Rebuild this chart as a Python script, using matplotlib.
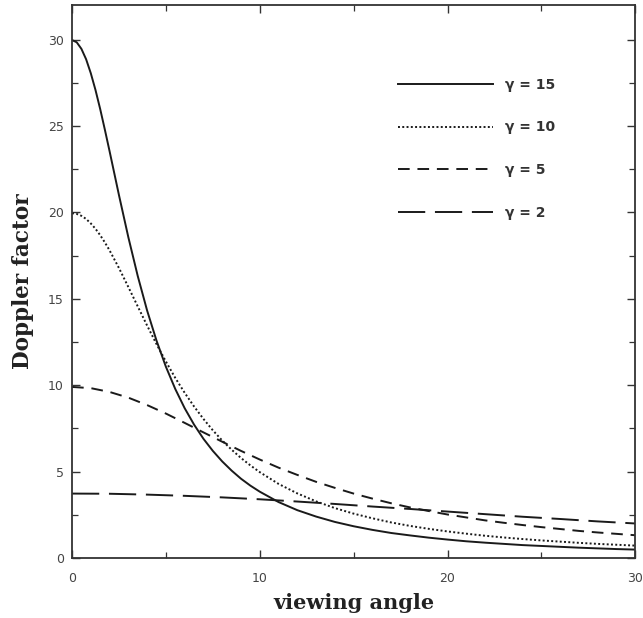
import matplotlib
matplotlib.use("Agg")
import matplotlib.pyplot as plt
from matplotlib.ticker import MultipleLocator

# viewing angle (deg) and Doppler factor
ang_fine = [0, 0.25, 0.5, 0.75, 1, 1.25, 1.5, 1.75, 2, 2.5, 3, 3.5, 4, 4.5, 5, 5.5, 6, 6.5,
            7, 7.5, 8, 8.5, 9, 9.5, 10, 11, 12, 13, 14, 15, 16, 17, 18, 19, 20, 21, 22, 23,
            24, 25, 26, 27, 28, 29, 30]
g15 = [29.97, 29.84, 29.46, 28.86, 28.05, 27.08, 25.98, 24.78, 23.54, 21.00, 18.56, 16.32,
       14.32, 12.58, 11.07, 9.78, 8.67, 7.72, 6.90, 6.20, 5.59, 5.06, 4.59, 4.19, 3.84, 3.24,
       2.77, 2.40, 2.09, 1.84, 1.63, 1.45, 1.31, 1.18, 1.07, 0.97, 0.89, 0.82, 0.75, 0.70,
       0.65, 0.60, 0.56, 0.52, 0.49]
g10 = [19.95, 19.91, 19.80, 19.62, 19.36, 19.05, 18.68, 18.26, 17.80, 16.78, 15.68, 14.56,
       13.45, 12.38, 11.37, 10.42, 9.56, 8.77, 8.05, 7.39, 6.80, 6.27, 5.79, 5.36, 4.97, 4.29,
       3.74, 3.28, 2.89, 2.57, 2.30, 2.06, 1.86, 1.69, 1.54, 1.41, 1.29, 1.19, 1.10, 1.02,
       0.95, 0.88, 0.82, 0.77, 0.72]

ang_1 = list(range(0, 31))
g5 = [9.90, 9.83, 9.61, 9.28, 8.85, 8.36, 7.82, 7.27, 6.73, 6.20, 5.70, 5.23, 4.81, 4.41,
      4.06, 3.73, 3.44, 3.17, 2.93, 2.72, 2.52, 2.35, 2.18, 2.04, 1.91, 1.79, 1.68, 1.57,
      1.48, 1.40, 1.32]

ang_2 = list(range(0, 31, 2))
g2 = [3.73, 3.72, 3.67, 3.60, 3.51, 3.40, 3.27, 3.13, 2.98, 2.84, 2.69, 2.54, 2.39, 2.26,
      2.12, 2.00]

fig = plt.figure(figsize=(6.43, 6.18), dpi=100)
ax = fig.add_axes([0.112, 0.097, 0.876, 0.895])

lc = '#1a1a1a'
ax.plot(ang_fine, g15, color=lc, lw=1.4, ls='-', label='γ = 15')
ax.plot(ang_fine, g10, color=lc, lw=1.4, ls=(0, (1, 1.2)), label='γ = 10')
ax.plot(ang_1, g5, color=lc, lw=1.4, ls=(0, (6, 4)), label='γ = 5')
ax.plot(ang_2, g2, color=lc, lw=1.4, ls=(0, (14, 5)), label='γ = 2')

ax.set_xlim(0, 30)
ax.set_ylim(0, 32)
ax.xaxis.set_major_locator(MultipleLocator(10))
ax.xaxis.set_minor_locator(MultipleLocator(5))
ax.yaxis.set_major_locator(MultipleLocator(5))
ax.yaxis.set_minor_locator(MultipleLocator(2.5))
ax.tick_params(which='both', direction='in', top=True, right=True, color='#333333',
               labelsize=9, labelcolor='#444444')
ax.tick_params(which='major', length=6, width=1)
ax.tick_params(which='minor', length=4, width=0.9)
ax.tick_params(axis='x', pad=10)
ax.tick_params(axis='y', pad=6)
for s in ax.spines.values():
    s.set_linewidth(1.3)
    s.set_color('#333333')

ax.set_xlabel('viewing angle', family='DejaVu Serif', fontweight='bold', fontsize=15,
              labelpad=6, color='#222222')
ax.set_ylabel('Doppler factor', family='DejaVu Serif', fontweight='bold', fontsize=15.5,
              labelpad=10, color='#222222')

leg = ax.legend(loc='upper left', bbox_to_anchor=(0.567, 0.881), frameon=False,
                handlelength=6.8, handletextpad=0.85, labelspacing=2.07, borderpad=0,
                prop={'size': 10, 'weight': 'bold'})
for t in leg.get_texts():
    t.set_color('#333333')

fig.savefig('out.png', dpi=100)
